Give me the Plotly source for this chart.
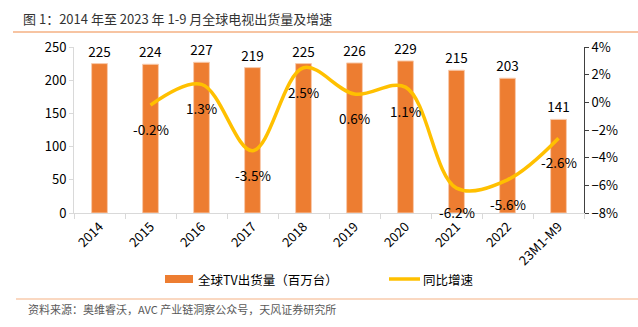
import plotly.graph_objects as go

categories = ["2014", "2015", "2016", "2017", "2018", "2019", "2020", "2021", "2022", "23M1-M9"]
shipments = [225, 224, 227, 219, 225, 226, 229, 215, 203, 141]
growth_cats = ["2015", "2016", "2017", "2018", "2019", "2020", "2021", "2022", "23M1-M9"]
growth = [-0.2, 1.3, -3.5, 2.5, 0.6, 1.1, -6.2, -5.6, -2.6]

title_text = "图 1：2014 年至 2023 年 1-9 月全球电视出货量及增速"
source_text = "资料来源：奥维睿沃，AVC 产业链洞察公众号，天风证券研究所"
bar_name = "全球TV出货量（百万台）"
line_name = "同比增速"

FONT = "Noto Sans CJK SC, Liberation Sans, sans-serif"
BAR_C = "#ED7D31"
LINE_C = "#FFC000"

W, H = 638, 327
L, R, T, B = 74, 584, 47, 213


def px(xpix):
    return (xpix - L) / (R - L)


def py(ypix):
    return (B - ypix) / (B - T)


fig = go.Figure()
fig.add_trace(go.Bar(
    x=categories, y=shipments, name=bar_name, width=0.31,
    marker=dict(color=BAR_C, line=dict(color="#F8CBAD", width=1)),
    text=[str(v) for v in shipments], textposition="outside", constraintext="none",
    textfont=dict(size=13.5, color="#000000", family=FONT), cliponaxis=False,
    showlegend=False,
))
fig.add_trace(go.Scatter(
    x=growth_cats, y=growth, name=line_name, yaxis="y2", mode="lines",
    line=dict(color=LINE_C, width=3.5, shape="spline", smoothing=1.0),
    showlegend=False,
))

annotations = []
for c, g in zip(growth_cats, growth):
    annotations.append(dict(x=categories.index(c), y=g, xref="x", yref="y2", text=f"{g:.1f}%",
                            showarrow=False, yshift=-24,
                            font=dict(size=13.5, color="#000000", family=FONT)))
annotations.append(dict(x=px(21), y=py(18), xref="paper", yref="paper",
                        xanchor="left", yanchor="middle", text=title_text, showarrow=False,
                        font=dict(size=13, color="#333333", family=FONT)))
annotations.append(dict(x=px(26), y=py(309), xref="paper", yref="paper",
                        xanchor="left", yanchor="middle", text=source_text, showarrow=False,
                        font=dict(size=11, color="#595959", family=FONT)))
annotations.append(dict(x=px(196), y=py(279), xref="paper", yref="paper",
                        xanchor="left", yanchor="middle", text=bar_name, showarrow=False,
                        font=dict(size=12.5, color="#000000", family=FONT)))
annotations.append(dict(x=px(421), y=py(279), xref="paper", yref="paper",
                        xanchor="left", yanchor="middle", text=line_name, showarrow=False,
                        font=dict(size=12.5, color="#000000", family=FONT)))

shapes = [
    dict(type="line", xref="paper", yref="paper", x0=px(13), x1=px(W), y0=py(32), y1=py(32),
         line=dict(color="#F4B183", width=1.5)),
    dict(type="line", xref="paper", yref="paper", x0=px(16), x1=px(W), y0=py(299), y1=py(299),
         line=dict(color="#F8CBAD", width=1.5)),
    dict(type="rect", xref="paper", yref="paper", x0=px(165), x1=px(193),
         y0=py(283), y1=py(275), fillcolor=BAR_C, line=dict(width=0)),
    dict(type="line", xref="paper", yref="paper", x0=px(389), x1=px(420),
         y0=py(279), y1=py(279), line=dict(color=LINE_C, width=3.5)),
]

fig.update_layout(
    width=W, height=H,
    margin=dict(l=L, r=W - R, t=T, b=H - B),
    paper_bgcolor="white", plot_bgcolor="white",
    font=dict(family=FONT, size=13, color="#000000"),
    xaxis=dict(type="category", categoryorder="array", categoryarray=categories,
               range=[-0.5, len(categories) - 0.5],
               showline=True, linecolor="#D9D9D9", linewidth=1,
               ticks="outside", ticklen=5, tickcolor="#D9D9D9", tickson="boundaries",
               tickangle=-45, tickfont=dict(size=13, color="#000000"), showgrid=False),
    yaxis=dict(range=[0, 250], dtick=50, showline=True, linecolor="#D9D9D9", linewidth=1,
               ticks="outside", ticklen=4, tickcolor="#D9D9D9", showgrid=False, zeroline=False,
               tickfont=dict(size=13, color="#000000")),
    yaxis2=dict(range=[-8, 4], dtick=2, overlaying="y", side="right", ticksuffix="%",
                showline=True, linecolor="#404040", linewidth=1, ticks="outside", ticklen=4,
                tickcolor="#404040", showgrid=False, zeroline=False,
                tickfont=dict(size=13, color="#000000")),
    annotations=annotations, shapes=shapes,
)

fig.write_html("out.html")
